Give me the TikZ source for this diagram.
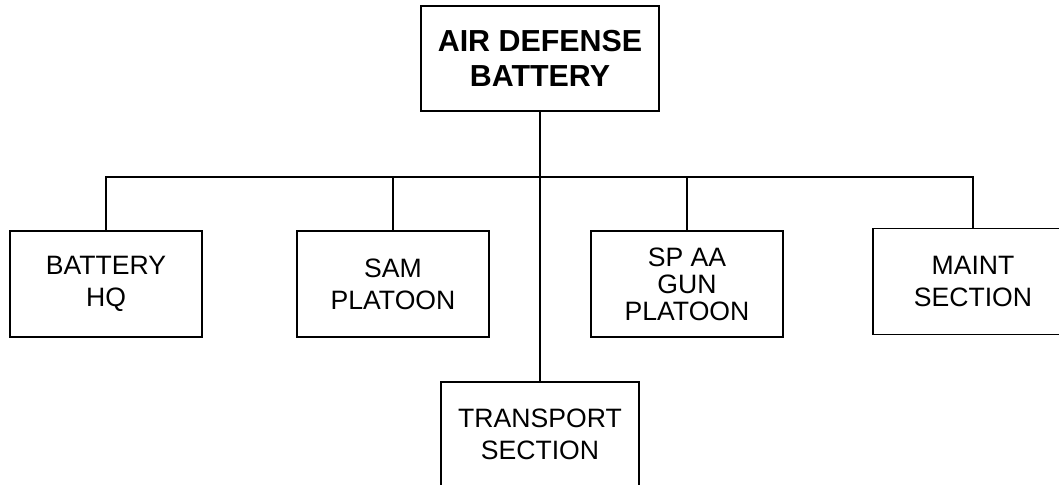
\documentclass[tikz,border=0pt]{standalone}
\usepackage{fontspec}
\setmainfont{Liberation Sans}
\usetikzlibrary{positioning}

\begin{document}
\begin{tikzpicture}[
        x=0.5pt, y=-0.5pt, line width=0.7pt,
        unit/.style={draw, minimum width=96pt, minimum height=53pt,
                    align=center, inner sep=2pt,
                    font=\fontsize{13.3}{16}\selectfont},
        head/.style={unit, minimum width=119pt, minimum height=52.5pt,
                    font=\fontsize{15.2}{17.5}\selectfont\bfseries},
    ]
        \useasboundingbox (0,0) rectangle (1059,484);
        \clip (0,0) rectangle (1059,484);
        \node[head] (adb)   at (540, 58.5) {AIR DEFENSE\\BATTERY};
        \node[unit] (hq)    at (106, 284)  {BATTERY\\HQ};
        \node[unit] (sam)   at (393, 284)  {SAM\\PLATOON};
        \node[unit, font=\fontsize{13.3}{13.5}\selectfont] (spaa) at (687, 284) {SP AA\\GUN\\PLATOON};
        \node[unit, minimum width=100pt] (maint) at (973, 281.5) {MAINT\\SECTION};
        \node[unit, minimum width=99pt, minimum height=52.5pt] (trans) at (540, 434.5) {TRANSPORT\\SECTION};
        \coordinate (bus) at (540, 177);
        \draw (adb.south) -- (trans.north);
        \draw (hq.north) |- (bus) -| (maint.north);
        \draw (sam.north) -- (sam.north |- bus);
        \draw (spaa.north) -- (spaa.north |- bus);
    \end{tikzpicture}
\end{document}
